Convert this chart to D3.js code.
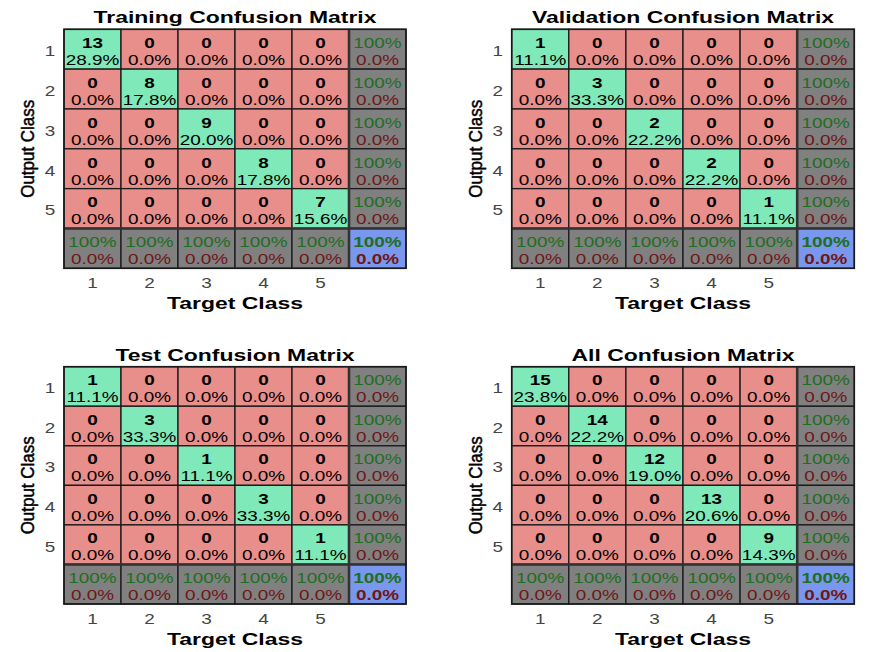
<!DOCTYPE html>
<html><head><meta charset="utf-8">
<script src="https://cdn.jsdelivr.net/npm/d3@7/dist/d3.min.js"></script>
<style>
html,body{margin:0;padding:0;background:#fff;}
svg{display:block;font-family:"Liberation Sans",Arial,sans-serif;}
</style></head>
<body><svg id="chart" width="894" height="652"></svg>
<script>
// ---- data ----
const classLabels = ["1","2","3","4","5"];
const panelTitles = ["Training Confusion Matrix","Validation Confusion Matrix","Test Confusion Matrix","All Confusion Matrix"];
const trainingMatrix = [
  [13,0,0,0,0],
  [0,8,0,0,0],
  [0,0,9,0,0],
  [0,0,0,8,0],
  [0,0,0,0,7]];
const validationMatrix = [
  [1,0,0,0,0],
  [0,3,0,0,0],
  [0,0,2,0,0],
  [0,0,0,2,0],
  [0,0,0,0,1]];
const testMatrix = [
  [1,0,0,0,0],
  [0,3,0,0,0],
  [0,0,1,0,0],
  [0,0,0,3,0],
  [0,0,0,0,1]];
const allMatrix = [
  [15,0,0,0,0],
  [0,14,0,0,0],
  [0,0,12,0,0],
  [0,0,0,13,0],
  [0,0,0,0,9]];
const xAxisTitle = "Target Class";
const yAxisTitle = "Output Class";

// ---- layout ----
const sx = 1.35; // horizontal stretch of the text in the reference
const panels = [
  {title: panelTitles[0], m: trainingMatrix,   x0: 64,    x1: 406,   y0: 29.3,  y1: 268.3},
  {title: panelTitles[1], m: validationMatrix, x0: 511.7, x1: 854.3, y0: 29.3,  y1: 268.3},
  {title: panelTitles[2], m: testMatrix,       x0: 64,    x1: 406,   y0: 366.7, y1: 604},
  {title: panelTitles[3], m: allMatrix,        x0: 511.7, x1: 854.3, y0: 366.7, y1: 604}
];
const C = {green:"#7fe9b9", red:"#e88e8b", gray:"#808080", blue:"#7a97ee",
           tGreen:"#1e6e1e", tRed:"#701616", grid:"#1a1a1a", tick:"#444"};

const svg = d3.select("#chart");
const fmtPct = v => (Math.abs(v-100) < 1e-9 ? "100%" : v.toFixed(1) + "%");

function stretchedText(g, x, y, txt, opts) {
  return g.append("text")
    .attr("transform", `translate(${x},${y}) scale(${sx},1)`)
    .attr("text-anchor", "middle")
    .attr("font-size", opts.size)
    .attr("font-weight", opts.weight || "normal")
    .attr("fill", opts.fill || "#000")
    .text(txt);
}

panels.forEach(p => {
  const keys = classLabels.concat(["total"]);
  const x = d3.scaleBand().domain(keys).range([p.x0, p.x1]).paddingInner(0);
  const y = d3.scaleBand().domain(keys).range([p.y0, p.y1]).paddingInner(0);
  const g = svg.append("g");
  const n = classLabels.length;
  const total = d3.sum(p.m.flat());
  const cw = x.bandwidth(), ch = y.bandwidth();

  const cells = [];
  for (let i = 0; i < n; i++) for (let j = 0; j < n; j++) {
    cells.push({r: classLabels[i], c: classLabels[j], v: p.m[i][j], diag: i === j});
  }
  // main cells
  cells.forEach(d => {
    const cx = x(d.c), cy = y(d.r);
    g.append("rect").attr("x", cx).attr("y", cy).attr("width", cw).attr("height", ch)
      .attr("fill", d.diag ? C.green : C.red)
      .attr("stroke", C.grid).attr("stroke-width", 1.3);
    stretchedText(g, cx + cw/2, cy + ch*0.47, String(d.v), {size: 14, weight: "bold"});
    stretchedText(g, cx + cw/2, cy + ch*0.9, fmtPct(100*d.v/total), {size: 14});
  });
  // row summaries (right column)
  for (let i = 0; i < n; i++) {
    const rs = d3.sum(p.m[i]);
    const acc = rs ? 100*p.m[i][i]/rs : 0;
    const cx = x("total"), cy = y(classLabels[i]);
    g.append("rect").attr("x", cx).attr("y", cy).attr("width", cw).attr("height", ch)
      .attr("fill", C.gray).attr("stroke", C.grid).attr("stroke-width", 1.3);
    stretchedText(g, cx + cw/2, cy + ch*0.47, fmtPct(acc), {size: 14, fill: C.tGreen});
    stretchedText(g, cx + cw/2, cy + ch*0.9, fmtPct(100-acc), {size: 14, fill: C.tRed});
  }
  // column summaries (bottom row)
  for (let j = 0; j < n; j++) {
    const cs = d3.sum(p.m, row => row[j]);
    const acc = cs ? 100*p.m[j][j]/cs : 0;
    const cx = x(classLabels[j]), cy = y("total");
    g.append("rect").attr("x", cx).attr("y", cy).attr("width", cw).attr("height", ch)
      .attr("fill", C.gray).attr("stroke", C.grid).attr("stroke-width", 1.3);
    stretchedText(g, cx + cw/2, cy + ch*0.47, fmtPct(acc), {size: 14, fill: C.tGreen});
    stretchedText(g, cx + cw/2, cy + ch*0.9, fmtPct(100-acc), {size: 14, fill: C.tRed});
  }
  // overall
  {
    const correct = d3.sum(classLabels.map((_, i) => p.m[i][i]));
    const acc = total ? 100*correct/total : 0;
    const cx = x("total"), cy = y("total");
    g.append("rect").attr("x", cx).attr("y", cy).attr("width", cw).attr("height", ch)
      .attr("fill", C.blue).attr("stroke", C.grid).attr("stroke-width", 1.3);
    stretchedText(g, cx + cw/2, cy + ch*0.47, fmtPct(acc), {size: 14, weight: "bold", fill: C.tGreen});
    stretchedText(g, cx + cw/2, cy + ch*0.9, fmtPct(100-acc), {size: 14, weight: "bold", fill: C.tRed});
  }
  // separator lines
  g.append("line").attr("x1", x("total")).attr("x2", x("total")).attr("y1", p.y0).attr("y2", p.y1)
    .attr("stroke", "#333").attr("stroke-width", 2.6);
  g.append("line").attr("x1", p.x0).attr("x2", p.x1).attr("y1", y("total")).attr("y2", y("total"))
    .attr("stroke", "#333").attr("stroke-width", 2.6);
  // outer frame
  g.append("rect").attr("x", p.x0).attr("y", p.y0).attr("width", p.x1-p.x0).attr("height", p.y1-p.y0)
    .attr("fill", "none").attr("stroke", C.grid).attr("stroke-width", 1.6);

  // axes (tick labels)
  const xa = g.append("g").attr("transform", `translate(0,${p.y1})`)
    .call(d3.axisBottom(x).tickValues(classLabels).tickSize(0).tickPadding(0));
  xa.select(".domain").remove();
  xa.selectAll("text").attr("dy", null).attr("y", 20)
    .attr("transform", `scale(${sx},1)`)
    .attr("font-size", 14).attr("font-family", "inherit").attr("fill", C.tick);

  const ya = g.append("g").attr("transform", `translate(${p.x0},0)`)
    .call(d3.axisLeft(y).tickValues(classLabels).tickSize(0).tickPadding(0));
  ya.select(".domain").remove();
  ya.selectAll("text").attr("dy", "0.35em").attr("y", 2).attr("x", -14/sx).attr("text-anchor", "middle")
    .attr("transform", `scale(${sx},1)`)
    .attr("font-size", 14).attr("font-family", "inherit").attr("fill", C.tick);

  // titles
  stretchedText(g, (p.x0+p.x1)/2, p.y0 - 6, p.title, {size: 17, weight: "bold"});
  stretchedText(g, (p.x0+p.x1)/2, p.y1 + 40.5, xAxisTitle, {size: 17, weight: "bold"});
  g.append("text")
    .attr("transform", `translate(${p.x0 - 30},${(p.y0+p.y1)/2}) rotate(-90)`)
    .attr("text-anchor", "middle").attr("font-size", 18)
    .attr("textLength", 98).attr("lengthAdjust", "spacingAndGlyphs")
    .attr("stroke", "#000").attr("stroke-width", 0.5)
    .attr("fill", "#000").text(yAxisTitle);
});
</script></body></html>
